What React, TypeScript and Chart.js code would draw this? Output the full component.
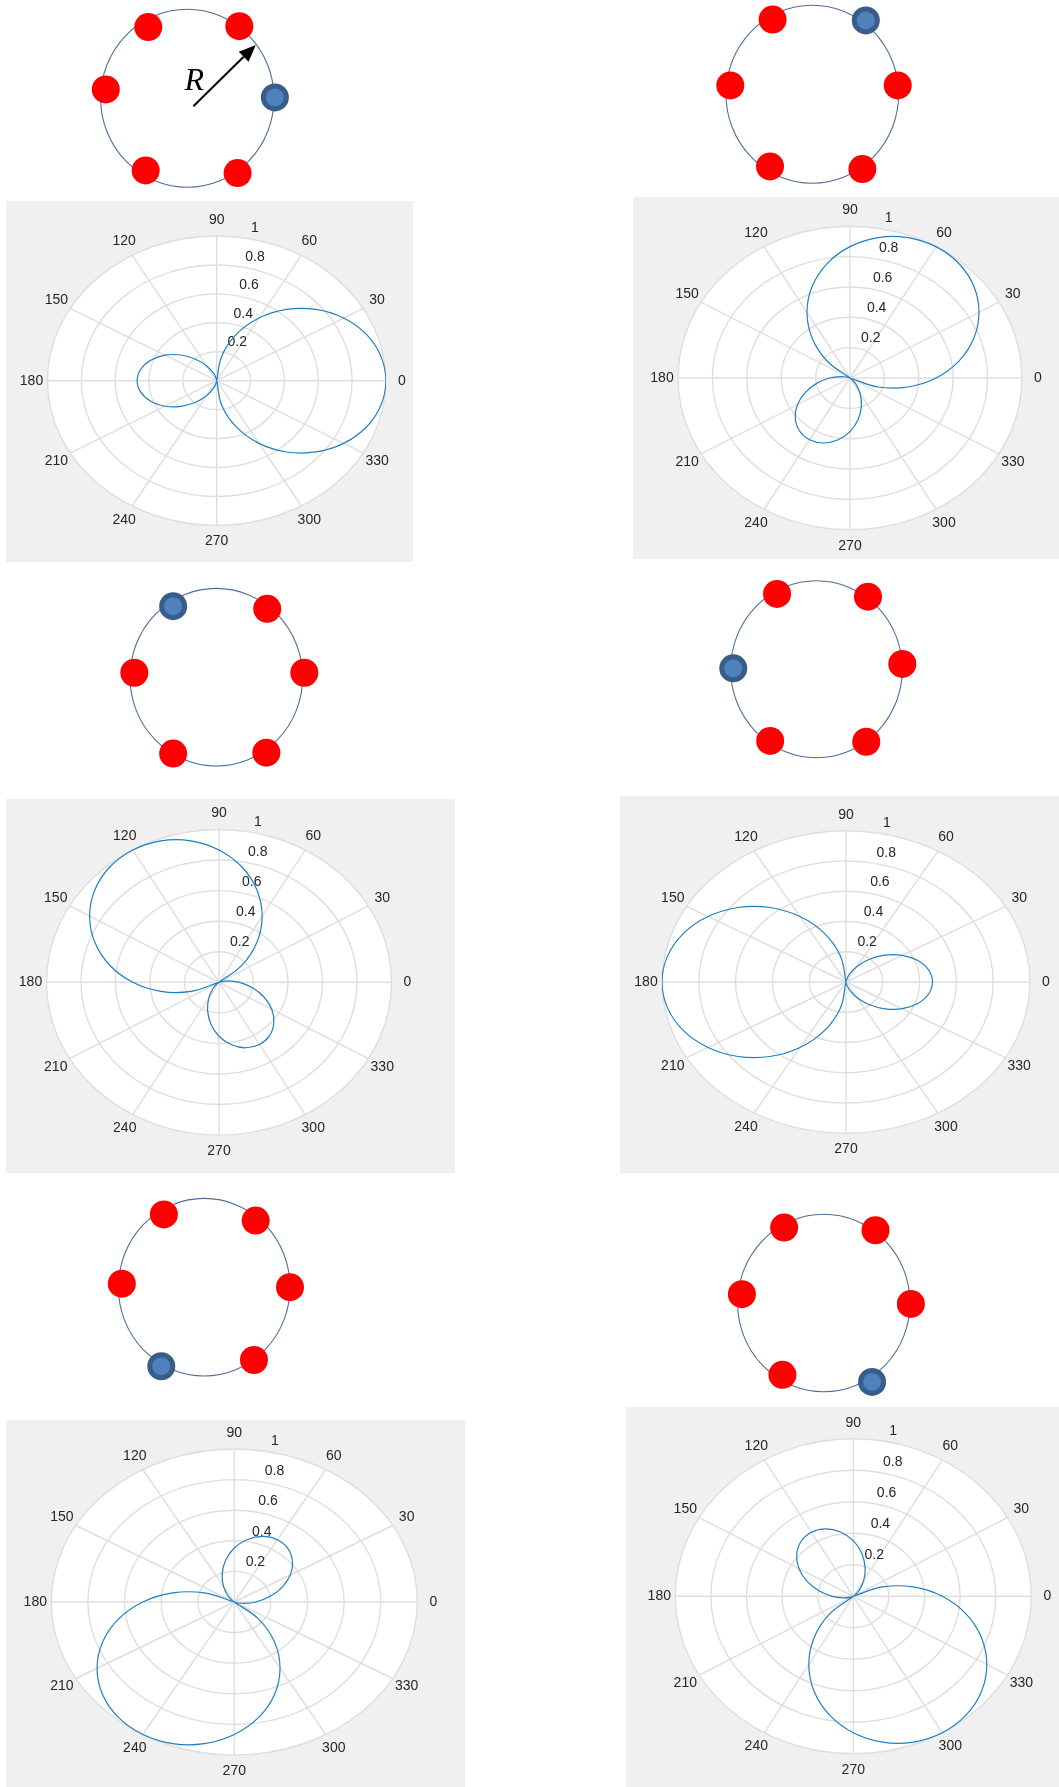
import React, { useEffect, useRef } from 'react';
import { Chart, registerables } from 'chart.js';

Chart.register(...registerables);

// ---------- data ----------
// sampling angles (degrees) of the radiation patterns
const ANGLES_DEG = [0, 10, 20, 30, 40, 50, 60, 70, 80, 90, 100, 110, 120, 130, 140, 150, 160, 170,
  180, 190, 200, 210, 220, 230, 240, 250, 260, 270, 280, 290, 300, 310, 320, 330, 340, 350];

// normalized pattern magnitude
const PATTERN_P1 = [1.000, 0.985, 0.940, 0.866, 0.766, 0.643, 0.500, 0.342, 0.174, 0.000, 0.014, 0.055, 0.118, 0.194, 0.276, 0.353, 0.415, 0.456,
  0.470, 0.456, 0.415, 0.353, 0.276, 0.194, 0.118, 0.055, 0.014, 0.000, 0.174, 0.342, 0.500, 0.643, 0.766, 0.866, 0.940, 0.985];
const PATTERN_P2 = [0.500, 0.643, 0.766, 0.866, 0.940, 0.985, 1.000, 0.985, 0.940, 0.866, 0.766, 0.643, 0.500, 0.342, 0.174, 0.000, 0.014, 0.055,
  0.118, 0.194, 0.276, 0.353, 0.415, 0.456, 0.470, 0.456, 0.415, 0.353, 0.276, 0.194, 0.118, 0.055, 0.014, 0.000, 0.174, 0.342];
const PATTERN_P3 = [0.118, 0.055, 0.014, 0.000, 0.174, 0.342, 0.500, 0.643, 0.766, 0.866, 0.940, 0.985, 1.000, 0.985, 0.940, 0.866, 0.766, 0.643,
  0.500, 0.342, 0.174, 0.000, 0.014, 0.055, 0.118, 0.194, 0.276, 0.353, 0.415, 0.456, 0.470, 0.456, 0.415, 0.353, 0.276, 0.194];
const PATTERN_P4 = [0.470, 0.456, 0.415, 0.353, 0.276, 0.194, 0.118, 0.055, 0.014, 0.000, 0.174, 0.342, 0.500, 0.643, 0.766, 0.866, 0.940, 0.985,
  1.000, 0.985, 0.940, 0.866, 0.766, 0.643, 0.500, 0.342, 0.174, 0.000, 0.014, 0.055, 0.118, 0.194, 0.276, 0.353, 0.415, 0.456];
const PATTERN_P5 = [0.118, 0.194, 0.276, 0.353, 0.415, 0.456, 0.470, 0.456, 0.415, 0.353, 0.276, 0.194, 0.118, 0.055, 0.014, 0.000, 0.174, 0.342,
  0.500, 0.643, 0.766, 0.866, 0.940, 0.985, 1.000, 0.985, 0.940, 0.866, 0.766, 0.643, 0.500, 0.342, 0.174, 0.000, 0.014, 0.055];
const PATTERN_P6 = [0.500, 0.342, 0.174, 0.000, 0.014, 0.055, 0.118, 0.194, 0.276, 0.353, 0.415, 0.456, 0.470, 0.456, 0.415, 0.353, 0.276, 0.194,
  0.118, 0.055, 0.014, 0.000, 0.174, 0.342, 0.500, 0.643, 0.766, 0.866, 0.940, 0.985, 1.000, 0.985, 0.940, 0.866, 0.766, 0.643];

// polar grid ticks
const RING_VALUES = [0.2, 0.4, 0.6, 0.8, 1];
const RING_LABELS = ['0.2', '0.4', '0.6', '0.8', '1'];
const SPOKE_ANGLES = [0, 30, 60, 90, 120, 150, 180, 210, 240, 270, 300, 330];
const SPOKE_LABELS = ['0', '30', '60', '90', '120', '150', '180', '210', '240', '270', '300', '330'];
const R_AXIS_ANGLE = 80;

// element positions on each array circle (normalized to the circle radius)
const ELEM_X_1 = [-0.45, 0.60, -0.94, 1.01, -0.48, 0.58];
const ELEM_Y_1 = [0.80, 0.81, 0.10, 0.01, -0.81, -0.84];
const ELEM_X_2 = [-0.46, 0.62, -0.95, 0.99, -0.49, 0.58];
const ELEM_Y_2 = [0.84, 0.83, 0.10, 0.10, -0.81, -0.84];
const ELEM_X_3 = [-0.50, 0.59, -0.95, 1.02, -0.50, 0.58];
const ELEM_Y_3 = [0.80, 0.77, 0.05, 0.05, -0.86, -0.85];
const ELEM_X_4 = [-0.46, 0.60, -0.97, 1.00, -0.54, 0.58];
const ELEM_Y_4 = [0.85, 0.82, 0.01, 0.06, -0.81, -0.82];
const ELEM_X_5 = [-0.47, 0.60, -0.96, 1.00, -0.50, 0.58];
const ELEM_Y_5 = [0.82, 0.75, 0.04, 0.00, -0.89, -0.82];
const ELEM_X_6 = [-0.46, 0.60, -0.95, 1.01, -0.48, 0.56];
const ELEM_Y_6 = [0.85, 0.82, 0.10, -0.01, -0.81, -0.89];
// index of the active (blue) element in each diagram
const ACTIVE_ELEM = [3, 1, 0, 2, 4, 5];

// radius annotation in the first diagram
const ARROW_FROM = [0.07, -0.09];
const ARROW_TO = [0.79, 0.60];
const R_LABEL_POS = [0.08, 0.093];
const R_LABEL = 'R';

// ---------- layout ----------
const POLAR_FRAMES = [
  { left: 6, top: 201, width: 407, height: 361, cx: 216.7, cy: 380.7, rx: 169.2, ry: 144.7 },
  { left: 633, top: 197, width: 426, height: 362, cx: 850, cy: 378, rx: 172, ry: 151.7 },
  { left: 6, top: 799, width: 449, height: 374, cx: 219, cy: 982.3, rx: 172.5, ry: 152.8 },
  { left: 620, top: 796, width: 439, height: 377, cx: 846, cy: 982, rx: 184, ry: 151.3 },
  { left: 6, top: 1420, width: 459, height: 367, cx: 234.3, cy: 1602, rx: 183, ry: 153 },
  { left: 626, top: 1407, width: 433, height: 380, cx: 853.3, cy: 1596.3, rx: 178, ry: 157.5 },
];
const CIRCLE_FRAMES = [
  { cx: 187.3, cy: 98.3, rx: 86.7, ry: 89 },
  { cx: 812.3, cy: 94.3, rx: 86.3, ry: 89 },
  { cx: 216.3, cy: 677.2, rx: 86.3, ry: 88.8 },
  { cx: 816.5, cy: 669.2, rx: 85.8, ry: 88.5 },
  { cx: 204.2, cy: 1287.2, rx: 85.8, ry: 88.8 },
  { cx: 823.8, cy: 1303, rx: 86.2, ry: 88.7 },
];

const PATTERNS = [PATTERN_P1, PATTERN_P2, PATTERN_P3, PATTERN_P4, PATTERN_P5, PATTERN_P6];
const ELEM_XS = [ELEM_X_1, ELEM_X_2, ELEM_X_3, ELEM_X_4, ELEM_X_5, ELEM_X_6];
const ELEM_YS = [ELEM_Y_1, ELEM_Y_2, ELEM_Y_3, ELEM_Y_4, ELEM_Y_5, ELEM_Y_6];

const LABEL_FONT = '14px "Liberation Sans", Arial, sans-serif';
const LABEL_COLOR = '#262626';
const GRID_COLOR = '#dedede';
const CURVE_COLOR = '#1f7fc4';

const DEG = Math.PI / 180;

const polarGridPlugin = {
  id: 'polarGrid',
  beforeDraw(chart: any) {
    const ctx = chart.ctx;
    ctx.save();
    ctx.fillStyle = '#f0f0f0';
    ctx.fillRect(0, 0, chart.width, chart.height);
    ctx.restore();
  },
  beforeDatasetsDraw(chart: any) {
    const ctx = chart.ctx;
    const xs = chart.scales.x;
    const ys = chart.scales.y;
    const cx = xs.getPixelForValue(0);
    const cy = ys.getPixelForValue(0);
    const rxOf = (v: number) => xs.getPixelForValue(v) - cx;
    const ryOf = (v: number) => cy - ys.getPixelForValue(v);
    const RX = rxOf(1);
    const RY = ryOf(1);
    ctx.save();
    ctx.fillStyle = '#ffffff';
    ctx.beginPath();
    ctx.ellipse(cx, cy, RX, RY, 0, 0, Math.PI * 2);
    ctx.fill();

    ctx.strokeStyle = GRID_COLOR;
    ctx.lineWidth = 1.4;
    RING_VALUES.forEach((v) => {
      ctx.beginPath();
      ctx.ellipse(cx, cy, rxOf(v), ryOf(v), 0, 0, Math.PI * 2);
      ctx.stroke();
    });
    SPOKE_ANGLES.forEach((a) => {
      ctx.beginPath();
      ctx.moveTo(cx, cy);
      ctx.lineTo(cx + RX * Math.cos(a * DEG), cy - RY * Math.sin(a * DEG));
      ctx.stroke();
    });

    ctx.fillStyle = LABEL_COLOR;
    ctx.font = LABEL_FONT;
    ctx.textAlign = 'left';
    ctx.textBaseline = 'middle';
    RING_VALUES.forEach((v, i) => {
      const px = cx + rxOf(v) * Math.cos(R_AXIS_ANGLE * DEG);
      const py = cy - ryOf(v) * Math.sin(R_AXIS_ANGLE * DEG);
      ctx.fillText(RING_LABELS[i], px + 5, py - 10);
    });
    ctx.textAlign = 'center';
    SPOKE_ANGLES.forEach((a, i) => {
      const px = cx + (RX + 16) * Math.cos(a * DEG);
      const py = cy - (RY + 16) * Math.sin(a * DEG);
      ctx.fillText(SPOKE_LABELS[i], px, py);
    });
    ctx.restore();
  },
};

function PolarPanel({ index }: { index: number }) {
  const ref = useRef<HTMLCanvasElement>(null);
  const f = POLAR_FRAMES[index];
  useEffect(() => {
    const radii = PATTERNS[index];
    const pts = ANGLES_DEG.map((a, i) => ({
      x: radii[i] * Math.cos(a * DEG),
      y: radii[i] * Math.sin(a * DEG),
    }));
    // start the closed trace at a null so the seam falls on the cusp
    let k0 = 0;
    radii.forEach((r, i) => { if (r < radii[k0]) k0 = i; });
    const ordered = pts.slice(k0).concat(pts.slice(0, k0));
    ordered.push(ordered[0]);

    const padding = {
      left: f.cx - f.rx - f.left,
      right: f.left + f.width - (f.cx + f.rx),
      top: f.cy - f.ry - f.top,
      bottom: f.top + f.height - (f.cy + f.ry),
    };
    const chart = new Chart(ref.current as HTMLCanvasElement, {
      type: 'scatter',
      data: {
        datasets: [{
          data: ordered,
          showLine: true,
          borderColor: CURVE_COLOR,
          borderWidth: 1.2,
          pointRadius: 0,
          tension: 0.4,
          fill: false,
        } as any],
      },
      options: {
        animation: false,
        responsive: false,
        devicePixelRatio: 1,
        events: [],
        layout: { padding },
        plugins: { legend: { display: false }, tooltip: { enabled: false } },
        scales: {
          x: { type: 'linear', min: -1, max: 1, display: false },
          y: { type: 'linear', min: -1, max: 1, display: false },
        },
      } as any,
      plugins: [polarGridPlugin],
    });
    return () => chart.destroy();
  }, []);
  return (
    <canvas
      ref={ref}
      width={f.width}
      height={f.height}
      style={{ position: 'absolute', left: f.left, top: f.top, width: f.width, height: f.height }}
    />
  );
}

const ringPlugin = {
  id: 'arrayRing',
  beforeDatasetsDraw(chart: any) {
    const ctx = chart.ctx;
    const xs = chart.scales.x;
    const ys = chart.scales.y;
    const cx = xs.getPixelForValue(0);
    const cy = ys.getPixelForValue(0);
    ctx.save();
    ctx.strokeStyle = '#4e6f9a';
    ctx.lineWidth = 1.1;
    ctx.beginPath();
    ctx.ellipse(cx, cy, xs.getPixelForValue(1) - cx, cy - ys.getPixelForValue(1), 0, 0, Math.PI * 2);
    ctx.stroke();
    ctx.restore();
  },
};

const radiusPlugin = {
  id: 'radiusArrow',
  afterDatasetsDraw(chart: any) {
    const ctx = chart.ctx;
    const xs = chart.scales.x;
    const ys = chart.scales.y;
    const x0 = xs.getPixelForValue(ARROW_FROM[0]);
    const y0 = ys.getPixelForValue(ARROW_FROM[1]);
    const x1 = xs.getPixelForValue(ARROW_TO[0]);
    const y1 = ys.getPixelForValue(ARROW_TO[1]);
    const ang = Math.atan2(y1 - y0, x1 - x0);
    const headLen = 17;
    const headHalf = 7;
    const bx = x1 - headLen * Math.cos(ang);
    const by = y1 - headLen * Math.sin(ang);
    ctx.save();
    ctx.strokeStyle = '#000';
    ctx.fillStyle = '#000';
    ctx.lineWidth = 2;
    ctx.beginPath();
    ctx.moveTo(x0, y0);
    ctx.lineTo(bx, by);
    ctx.stroke();
    ctx.beginPath();
    ctx.moveTo(x1, y1);
    ctx.lineTo(bx + headHalf * Math.sin(ang), by - headHalf * Math.cos(ang));
    ctx.lineTo(bx - headHalf * Math.sin(ang), by + headHalf * Math.cos(ang));
    ctx.closePath();
    ctx.fill();
    ctx.font = 'italic 32px "Liberation Serif", "Times New Roman", serif';
    ctx.textAlign = 'center';
    ctx.textBaseline = 'alphabetic';
    ctx.fillText(R_LABEL, xs.getPixelForValue(R_LABEL_POS[0]), ys.getPixelForValue(R_LABEL_POS[1]));
    ctx.restore();
  },
};

function ArrayDiagram({ index }: { index: number }) {
  const ref = useRef<HTMLCanvasElement>(null);
  const f = CIRCLE_FRAMES[index];
  const pad = 20;
  const left = Math.floor(f.cx - f.rx - pad);
  const top = Math.floor(f.cy - f.ry - pad);
  const width = Math.ceil(f.cx + f.rx + pad) - left;
  const height = Math.ceil(f.cy + f.ry + pad) - top;
  useEffect(() => {
    const xsArr = ELEM_XS[index];
    const ysArr = ELEM_YS[index];
    const active = ACTIVE_ELEM[index];
    const red = xsArr.map((x, i) => ({ x, y: ysArr[i] })).filter((_, i) => i !== active);
    const blue = [{ x: xsArr[active], y: ysArr[active] }];
    const padding = {
      left: f.cx - f.rx - left,
      right: left + width - (f.cx + f.rx),
      top: f.cy - f.ry - top,
      bottom: top + height - (f.cy + f.ry),
    };
    const chart = new Chart(ref.current as HTMLCanvasElement, {
      type: 'scatter',
      data: {
        datasets: [
          { data: red, pointRadius: 14, pointBackgroundColor: '#ff0000', pointBorderWidth: 0, borderWidth: 0, clip: false } as any,
          { data: blue, pointRadius: 11.5, pointBackgroundColor: '#4f81bd', pointBorderColor: '#385d8a', pointBorderWidth: 5, clip: false } as any,
        ],
      },
      options: {
        animation: false,
        responsive: false,
        devicePixelRatio: 1,
        events: [],
        layout: { padding },
        plugins: { legend: { display: false }, tooltip: { enabled: false } },
        scales: {
          x: { type: 'linear', min: -1, max: 1, display: false },
          y: { type: 'linear', min: -1, max: 1, display: false },
        },
      } as any,
      plugins: index === 0 ? [ringPlugin, radiusPlugin] : [ringPlugin],
    });
    return () => chart.destroy();
  }, []);
  return (
    <canvas
      ref={ref}
      width={width}
      height={height}
      style={{ position: 'absolute', left, top, width, height }}
    />
  );
}

export default function App() {
  return (
    <div style={{ position: 'absolute', left: 0, top: 0, width: 1059, height: 1787, background: '#ffffff', overflow: 'hidden' }}>
      {POLAR_FRAMES.map((_, i) => <PolarPanel key={'p' + i} index={i} />)}
      {CIRCLE_FRAMES.map((_, i) => <ArrayDiagram key={'c' + i} index={i} />)}
    </div>
  );
}
